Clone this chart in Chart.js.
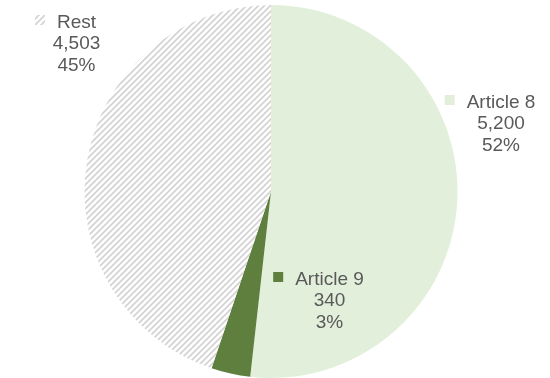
<!DOCTYPE html>
<html lang="en">
<head>
  <meta charset="UTF-8">
  <title>Article 8 / Article 9 / Rest</title>
  <style>
    * { margin: 0; padding: 0; box-sizing: border-box; }
    body { background: #ffffff; width: 550px; height: 378px; overflow: hidden; }
    .chart-container { position: relative; width: 550px; height: 378px; }
  </style>
</head>
<body>
  <div class="chart-container">
    <canvas id="pieChart"></canvas>
  </div>

  <script src="https://cdn.jsdelivr.net/npm/chart.js"></script>
  <script>
    // Data
    const labels = ['Article 8', 'Article 9', 'Rest'];
    const values = [5200, 340, 4503];
    const percentLabels = ['52%', '3%', '45%'];

    // grey "upward diagonal" hatch used for the Rest slice
    function makeHatch() {
      const size = 6;
      const c = document.createElement('canvas');
      c.width = size; c.height = size;
      const g = c.getContext('2d');
      g.fillStyle = '#ffffff';
      g.fillRect(0, 0, size, size);
      g.strokeStyle = '#d2d2d2';
      g.lineWidth = 1.6;
      g.beginPath();
      g.moveTo(-1, size + 1); g.lineTo(size + 1, -1);
      g.moveTo(-1, 1); g.lineTo(1, -1);
      g.moveTo(size - 1, size + 1); g.lineTo(size + 1, size - 1);
      g.stroke();
      return g.createPattern(c, 'repeat');
    }

    const ctx = document.getElementById('pieChart').getContext('2d');
    const hatch = makeHatch();
    const sliceColors = ['#e2efda', '#5f7f3e', hatch];

    // label blocks: centre x of the first line and its cap top
    const labelSpots = [
      { cx: 501, top: 94 },
      { cx: 329.5, top: 271 },
      { cx: 76.5, top: 14 }
    ];

    const sliceLabels = {
      id: 'sliceLabels',
      afterDraw(chart) {
        const c = chart.ctx;
        const fontSize = 19;
        const lineStep = 21.5;
        c.save();
        c.font = fontSize + 'px "Liberation Sans", Arial, sans-serif';
        c.fillStyle = '#595959';
        c.textBaseline = 'alphabetic';
        c.textAlign = 'center';
        labels.forEach((name, i) => {
          const spot = labelSpots[i];
          const base = spot.top + fontSize * 0.716;
          const lines = [name, values[i].toLocaleString('en-US'), percentLabels[i]];
          lines.forEach((txt, j) => {
            c.fillText(txt, spot.cx, base + j * lineStep);
          });
          // legend key square left of the name
          const w = c.measureText(name).width;
          const mx = spot.cx - w / 2 - 22;
          c.fillStyle = sliceColors[i];
          c.fillRect(mx, spot.top + 1, 10, 10);
          c.fillStyle = '#595959';
        });
        c.restore();
      }
    };

    new Chart(ctx, {
      type: 'pie',
      data: {
        labels: labels,
        datasets: [{
          data: values,
          backgroundColor: sliceColors,
          borderWidth: 0
        }]
      },
      options: {
        responsive: true,
        maintainAspectRatio: false,
        animation: false,
        layout: { padding: { top: 5, bottom: 0, left: 0, right: 8 } },
        plugins: {
          legend: { display: false },
          tooltip: { enabled: false }
        }
      },
      plugins: [sliceLabels]
    });
  </script>
</body>
</html>
